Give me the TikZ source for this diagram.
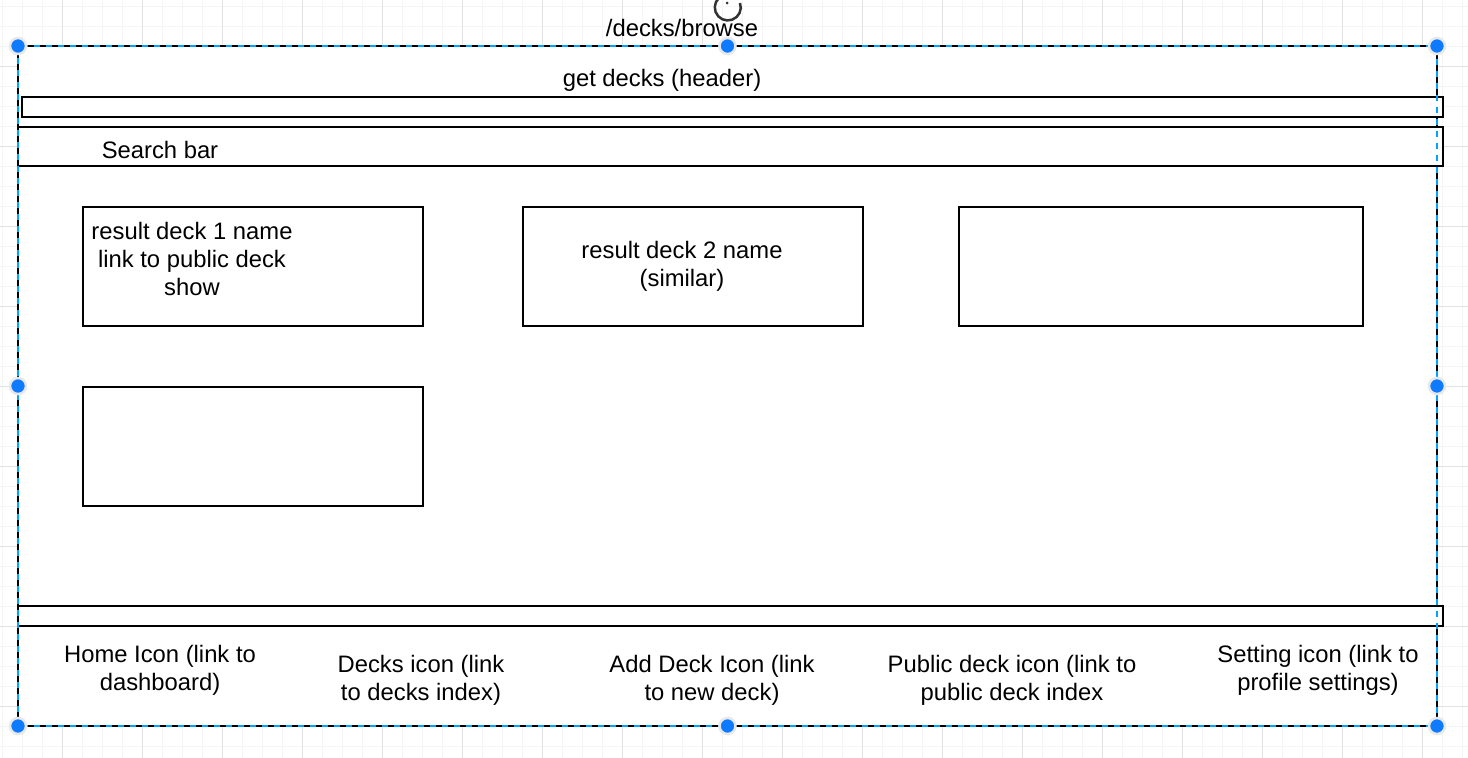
\documentclass[tikz,border=0pt]{standalone}
\usepackage{fontspec}
\setmainfont{Liberation Sans}

\definecolor{gridminor}{RGB}{245,245,245}
\definecolor{gridmajor}{RGB}{226,226,226}
\definecolor{selblue}{RGB}{0,164,255}
\definecolor{handleblue}{RGB}{14,122,255}
\newcommand{\wirefont}{\fontsize{23.8}{28}\selectfont}

\begin{document}
\begin{tikzpicture}[x=1pt, y=-1pt,
    box/.style={draw=black, line width=1.8pt, fill=white, inner sep=0pt, outer sep=0pt},
    txt/.style={font=\wirefont, align=center, inner sep=0pt},
    handle/.style={circle, fill=handleblue, draw=black!9, line width=2.5pt, minimum size=16pt, inner sep=0pt}]
    \useasboundingbox[fill=white] (0,0) rectangle (1468,758);

    % Background grid
    \foreach \gx in {2,22,...,1462} \draw[gridminor, line width=1pt] (\gx,0) -- (\gx,758);
    \foreach \gy in {6,26,...,746} \draw[gridminor, line width=1pt] (0,\gy) -- (1468,\gy);
    \foreach \gx in {62,142,...,1422} \draw[gridmajor, line width=1pt] (\gx,0) -- (\gx,758);
    \foreach \gy in {66,146,...,706} \draw[gridmajor, line width=1pt] (0,\gy) -- (1468,\gy);

    % Page frame and its title
    \node[box, minimum width=1419pt, minimum height=680pt] (page) at (727.5,386) {};
    \node[txt] (title) at (682,27.5) {/decks/browse};

    % Header and search bar
    \node[box, minimum width=1421pt, minimum height=20pt] (header) at (732.5,107) {};
    \node[txt] (headertext) at (662,80) {get decks (header)};
    \node[box, minimum width=1425pt, minimum height=39pt] (search) at (730.5,146.5) {};
    \node[txt] (searchtext) at (160,150) {Search bar};

    % Result decks
    \node[box, minimum width=340pt, minimum height=119pt] (deckA) at (253,266.5) {};
    \node[box, minimum width=340pt, minimum height=119pt] (deckB) at (693,266.5) {};
    \node[box, minimum width=404pt, minimum height=119pt] (deckC) at (1161,266.5) {};
    \node[box, minimum width=340pt, minimum height=119pt] (deckD) at (253,446.5) {};
    \node[txt] (deckAtext) at (192,258.5) {result deck 1 name\\ link to public deck\\ show};
    \node[txt] (deckBtext) at (682,266) {result deck 2 name\\ (similar)};

    % Footer with the icons
    \node[box, minimum width=1425pt, minimum height=20pt] (footer) at (730.5,616) {};
    \node[txt] (home) at (160,670) {Home Icon (link to\\ dashboard)};
    \node[txt] (decks) at (421,680) {Decks icon (link\\ to decks index)};
    \node[txt] (adddeck) at (712,680) {Add Deck Icon (link\\ to new deck)};
    \node[txt] (public) at (1012,680) {Public deck icon (link to\\ public deck index};
    \node[txt] (setting) at (1318,670) {Setting icon (link to\\ profile settings)};

    % Selection outline and handles
    \draw[selblue, line width=1.8pt, dash pattern=on 6pt off 6pt] (page.north west) rectangle (page.south east);
    \draw[black!80, line width=2.5pt] (740,3) arc[start angle=-20, end angle=290, radius=13];
    \fill[black!80] (727,3) circle (1.5);
    \foreach \hname/\hpos in {nw/page.north west, n/page.north, ne/page.north east,
        w/page.west, e/page.east, sw/page.south west, s/page.south, se/page.south east}
        \node[handle] (handle-\hname) at (\hpos) {};
\end{tikzpicture}
\end{document}
